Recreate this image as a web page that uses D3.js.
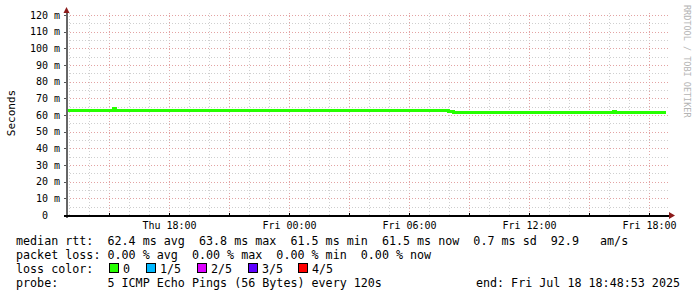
<!DOCTYPE html>
<html>
<head>
<meta charset="utf-8">
<script src="https://cdn.jsdelivr.net/npm/d3@7"></script>
<style>
  body { margin: 0; background: #fff; }
  svg text { font-family: "DejaVu Sans Mono", monospace; white-space: pre; }
</style>
</head>
<body>
<div id="chart"></div>
<script>
// median rtt samples (step)
const times = [
  '2025-07-17 12:54', '2025-07-17 15:12', '2025-07-17 15:18',
  '2025-07-18 07:57', '2025-07-18 08:03', '2025-07-18 08:12',
  '2025-07-18 09:51', '2025-07-18 09:57', '2025-07-18 15:03',
  '2025-07-18 15:09', '2025-07-18 16:12', '2025-07-18 16:18',
  '2025-07-18 18:51',
];
const medianMs = [62.8, 63.8, 62.8, 62.1, 61.9, 61.3, 61.8, 61.3, 61.8, 61.3, 62.4, 61.3, 61.3];

const yTicks = [0, 10, 20, 30, 40, 50, 60, 70, 80, 90, 100, 110, 120];
const yMinor = [5, 15, 25, 35, 45, 55, 65, 75, 85, 95, 105, 115];

const lossLabels = ['0', '1/5', '2/5', '3/5', '4/5'];
const lossColors = ['#26ff00', '#00b8ff', '#dd00ff', '#5e00ff', '#ff0000'];

const legendRows = [
  'median rtt:  62.4 ms avg  63.8 ms max  61.5 ms min  61.5 ms now  0.7 ms sd  92.9   am/s',
  'packet loss: 0.00 % avg  0.00 % max  0.00 % min  0.00 % now',
  'loss color:',
  'probe:       5 ICMP Echo Pings (56 Bytes) every 120s',
];
const endLabel = 'end: Fri Jul 18 18:48:53 2025';

const W = 697;
const H = 297;
const plot = { left: 67, right: 667, top: 15, bottom: 215 };

const parse = d3.timeParse('%Y-%m-%d %H:%M');
const data = times.map((t, i) => ({ t: parse(t), v: medianMs[i] }));

const x = d3.scaleTime()
  .domain([parse('2025-07-17 12:54'), parse('2025-07-18 18:54')])
  .range([plot.left, plot.right]);
const y = d3.scaleLinear()
  .domain([0, 120])
  .range([plot.bottom, plot.top]);

const svg = d3.select('#chart')
  .append('svg')
  .attr('width', W)
  .attr('height', H)
  .attr('shape-rendering', 'crispEdges');

svg.append('rect').attr('width', W).attr('height', H).attr('fill', '#fff');

// grid
const minorCol = '#cfcfcf';
const majorCol = '#e3a3a3';
const hours = x.ticks(d3.timeHour.every(1));
svg.append('g').selectAll('line')
  .data(hours)
  .join('line')
  .attr('x1', (d) => Math.round(x(d)) + 0.5)
  .attr('x2', (d) => Math.round(x(d)) + 0.5)
  .attr('y1', plot.top - 2)
  .attr('y2', plot.bottom)
  .attr('stroke', (d) => (d.getHours() % 3 === 0 ? majorCol : minorCol))
  .attr('stroke-dasharray', '1,2');

svg.append('g').selectAll('line')
  .data(yMinor)
  .join('line')
  .attr('x1', plot.left)
  .attr('x2', plot.right + 2)
  .attr('y1', (d) => Math.round(y(d)) + 0.5)
  .attr('y2', (d) => Math.round(y(d)) + 0.5)
  .attr('stroke', minorCol)
  .attr('stroke-dasharray', '1,2');

svg.append('g').selectAll('line')
  .data(yTicks.filter((d) => d > 0))
  .join('line')
  .attr('x1', plot.left)
  .attr('x2', plot.right + 2)
  .attr('y1', (d) => Math.round(y(d)) + 0.5)
  .attr('y2', (d) => Math.round(y(d)) + 0.5)
  .attr('stroke', majorCol)
  .attr('stroke-dasharray', '1,2');

// y labels + ticks
svg.append('g').selectAll('text')
  .data(yTicks)
  .join('text')
  .attr('x', 60)
  .attr('y', (d) => y(d) + 3.5)
  .attr('text-anchor', 'end')
  .attr('font-size', 10)
  .attr('fill', '#000')
  .text((d) => (d === 0 ? '0  ' : `${d} m`));

svg.append('g').selectAll('line')
  .data(yTicks)
  .join('line')
  .attr('x1', plot.left - 3)
  .attr('x2', plot.left)
  .attr('y1', (d) => Math.round(y(d)) + 0.5)
  .attr('y2', (d) => Math.round(y(d)) + 0.5)
  .attr('stroke', '#555');

// median line
const line = d3.line()
  .x((d) => x(d.t))
  .y((d) => y(d.v))
  .curve(d3.curveStepAfter);
svg.append('path')
  .datum(data)
  .attr('d', line)
  .attr('fill', 'none')
  .attr('stroke', lossColors[0])
  .attr('stroke-width', 3);

// axes
svg.append('line')
  .attr('x1', plot.left - 0.5).attr('x2', plot.left - 0.5)
  .attr('y1', 10).attr('y2', plot.bottom + 3)
  .attr('stroke', '#666').attr('stroke-width', 2);
svg.append('line')
  .attr('x1', plot.left - 3).attr('x2', plot.right + 4)
  .attr('y1', plot.bottom + 0.5).attr('y2', plot.bottom + 0.5)
  .attr('stroke', '#000').attr('stroke-width', 2);
svg.append('path')
  .attr('d', `M${plot.left - 3.5},${13} L${plot.left - 0.5},${7} L${plot.left + 2.5},${13} Z`)
  .attr('fill', '#8b1a1a')
  .attr('shape-rendering', 'auto');
svg.append('path')
  .attr('d', `M${plot.right + 2},${plot.bottom - 3} L${plot.right + 8},${plot.bottom + 0.5} L${plot.right + 2},${plot.bottom + 4} Z`)
  .attr('fill', '#8b1a1a')
  .attr('shape-rendering', 'auto');

// x ticks & labels
const majors = x.ticks(d3.timeHour.every(3));
svg.append('g').selectAll('line')
  .data(majors)
  .join('line')
  .attr('x1', (d) => Math.round(x(d)) + 0.5)
  .attr('x2', (d) => Math.round(x(d)) + 0.5)
  .attr('y1', plot.bottom - 2)
  .attr('y2', plot.bottom + 2)
  .attr('stroke', '#000');

const fmt = d3.timeFormat('%a %H:%M');
svg.append('g').selectAll('text')
  .data(x.ticks(d3.timeHour.every(6)))
  .join('text')
  .attr('x', (d) => x(d) + 0.5)
  .attr('y', 229)
  .attr('text-anchor', 'middle')
  .attr('font-size', 10)
  .text((d) => fmt(d));

// y axis title
svg.append('text')
  .attr('transform', 'translate(14.5,113) rotate(-90)')
  .attr('text-anchor', 'middle')
  .attr('font-size', 11)
  .text('Seconds');

// watermark
svg.append('text')
  .attr('transform', 'translate(684,5) rotate(90)')
  .attr('font-size', 8.5)
  .attr('fill', '#b4b4b4')
  .text('RRDTOOL / TOBI OETIKER');

// legend
svg.append('g').selectAll('text')
  .data(legendRows)
  .join('text')
  .attr('x', 16)
  .attr('y', (d, i) => 245 + i * 14)
  .attr('font-size', 11.7)
  .attr('fill', '#000')
  .text((d) => d);

svg.append('text')
  .attr('x', 680)
  .attr('y', 287)
  .attr('text-anchor', 'end')
  .attr('font-size', 11.7)
  .text(endLabel);

const boxX = [109, 146, 197, 248, 298];
const lg = svg.append('g').selectAll('g')
  .data(lossLabels)
  .join('g');
lg.append('rect')
  .attr('x', (d, i) => boxX[i] + 0.5)
  .attr('y', 263.5)
  .attr('width', 9)
  .attr('height', 9)
  .attr('fill', (d, i) => lossColors[i])
  .attr('stroke', '#000');
lg.append('text')
  .attr('x', (d, i) => boxX[i] + 14)
  .attr('y', 273)
  .attr('font-size', 11.7)
  .text((d) => d);
</script>
</body>
</html>
